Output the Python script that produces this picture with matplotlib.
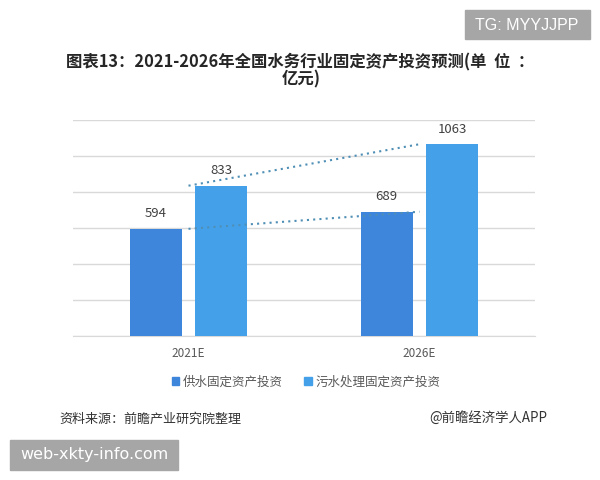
import matplotlib
matplotlib.use("Agg")
import matplotlib.pyplot as plt
from matplotlib.patches import Patch, Rectangle

plt.rcParams["font.family"] = ["Noto Sans CJK SC", "DejaVu Sans"]

# data (亿元)
years = ["2021E", "2026E"]
series_names = ["供水固定资产投资", "污水处理固定资产投资"]
water_supply = [594, 689]
sewage = [833, 1063]

colors = ["#3e85dc", "#45a0ea"]
grid_color = "#d9d9d9"
trend_color = "#4f8fb5"

fig = plt.figure(figsize=(6, 4.8), dpi=100)
ax = fig.add_axes([73 / 600, 1 - 336 / 480, 462 / 600, 216.5 / 480])

x = list(range(len(years)))
width = 0.225
offset = 0.142
for vals, color, sign in ((water_supply, colors[0], -1), (sewage, colors[1], 1)):
    pos = [i + sign * offset for i in x]
    bars = ax.bar(pos, vals, width=width, color=color, zorder=3)
    for b, v in zip(bars, vals):
        ax.annotate(str(v), (b.get_x() + b.get_width() / 2, v),
                    xytext=(0, 6), textcoords="offset points",
                    ha="center", va="bottom", fontsize=9.5, color="#404040")

# dotted trend lines between the two years
ax.plot(x, water_supply, linestyle=(0, (1, 2)), color=trend_color, lw=1.5, zorder=4)
ax.plot(x, sewage, linestyle=(0, (1, 2)), color=trend_color, lw=1.5, zorder=4)

ax.set_xlim(-0.5, 1.5)
ax.set_ylim(0, 1200)
ax.set_yticks(range(0, 1201, 200))
ax.yaxis.grid(True, color=grid_color, lw=1, zorder=0)
ax.set_axisbelow(True)
for side in ("top", "left", "right"):
    ax.spines[side].set_visible(False)
ax.spines["bottom"].set_color(grid_color)
ax.set_xticks(x)
ax.set_xticklabels(years, fontsize=8.5, color="#595959")
ax.tick_params(axis="both", length=0)
ax.tick_params(axis="x", pad=8)
ax.set_yticklabels([])

handles = [Patch(color=c) for c in colors]
fig.legend(handles, series_names, loc="center", bbox_to_anchor=(306 / 600, 1 - 382 / 480),
           ncol=2, frameon=False, fontsize=9, handlelength=0.6, handleheight=0.6,
           handletextpad=0.3, columnspacing=1.7, labelcolor="#595959")

fig.text(0.5, 1 - 62 / 480, "图表13：2021-2026年全国水务行业固定资产投资预测(单  位  ：",
         ha="center", va="center", fontsize=11.8, fontweight="bold", color="#262626")
fig.text(301 / 600, 1 - 79 / 480, "亿元)", ha="center", va="center",
         fontsize=11.8, fontweight="bold", color="#262626")

fig.text(59 / 600, 1 - 419 / 480, "资料来源：前瞻产业研究院整理", ha="left", va="center",
         fontsize=9.4, color="#333333")
fig.text(547 / 600, 1 - 418 / 480, "@前瞻经济学人APP", ha="right", va="center",
         fontsize=9.6, color="#333333")

# grey tag boxes
fig.patches.append(Rectangle((465 / 600, 1 - 39 / 480), 125 / 600, 29 / 480,
                             transform=fig.transFigure, color="#a6a6a6", zorder=5))
fig.text(527 / 600, 1 - 25 / 480, "TG: MYYJJPP", ha="center", va="center",
         fontsize=11.5, color="white", family="Liberation Sans", zorder=6)
fig.patches.append(Rectangle((10 / 600, 1 - 470 / 480), 168 / 600, 30 / 480,
                             transform=fig.transFigure, color="#a6a6a6", zorder=5))
fig.text(94 / 600, 1 - 455 / 480, "web-xkty-info.com", ha="center", va="center",
         fontsize=11.5, color="white", family="DejaVu Sans", zorder=6)

fig.savefig("out.png", dpi=100)
